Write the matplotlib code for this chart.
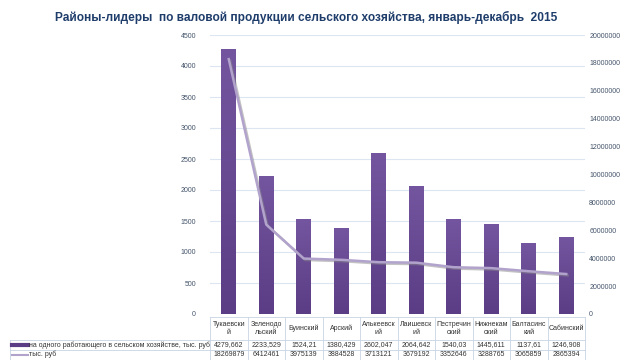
import numpy as np
import matplotlib.pyplot as plt
from matplotlib import patheffects as pe
from matplotlib.lines import Line2D
from matplotlib.colors import LinearSegmentedColormap

plt.rcParams["font.family"] = ["Liberation Sans", "DejaVu Sans"]

# ================== данные ==================
districts = ["Тукаевски\nй", "Зеленодо\nльский", "Буинский", "Арский", "Алькеевск\nий",
             "Лаишевск\nий", "Пестречин\nский", "Нижнекам\nский", "Балтасинс\nкий", "Сабинский"]
per_worker = [4279.662, 2233.529, 1524.21, 1380.429, 2602.047,
              2064.642, 1540.03, 1445.611, 1137.61, 1246.908]
per_worker_txt = ["4279,662", "2233,529", "1524,21", "1380,429", "2602,047",
                  "2064,642", "1540,03", "1445,611", "1137,61", "1246,908"]
total = [18269879, 6412461, 3975139, 3884528, 3713121,
         3679192, 3352646, 3288765, 3065859, 2865394]
label_bar = "на одного работающего в сельском хозяйстве, тыс. руб"
label_line = "тыс. руб"
title = "Районы-лидеры  по валовой продукции сельского хозяйства, январь-декабрь  2015"

TICK_C = "#44546A"
GRID_C = "#DCE6F2"
BORDER_C = "#C9D3E3"
BAR_TOP = "#74559F"
BAR_BOT = "#5A3D85"
LINE_C = "#B2A3CC"

W, H = 620, 360
fig = plt.figure(figsize=(6.2, 3.6), dpi=100)
ax = fig.add_axes([210 / W, 1 - 314 / H, 375 / W, 279 / H])
x = np.arange(len(districts))

bars = ax.bar(x, per_worker, width=0.4, color=BAR_BOT, zorder=2)
# градиент на столбцах
grad = np.linspace(0, 1, 256).reshape(-1, 1)
cmap = LinearSegmentedColormap.from_list("g", [BAR_BOT, BAR_TOP])
for b in bars:
    im = ax.imshow(grad, cmap=cmap, origin="lower", aspect="auto", zorder=2,
                   extent=[b.get_x(), b.get_x() + b.get_width(), 0, b.get_height()])
    im.set_clip_path(b)

ax.set_xlim(-0.5, len(districts) - 0.5)
ax.set_ylim(0, 4500)
ax.set_yticks(np.arange(0, 4501, 500))
ax.yaxis.grid(True, color=GRID_C, lw=0.8, zorder=0)
ax.set_xticks([])
for s in ax.spines.values():
    s.set_visible(False)
ax.tick_params(axis="y", length=0, labelsize=5, labelcolor=TICK_C, pad=10)

ax2 = ax.twinx()
ax2.plot(x, total, color=LINE_C, lw=1.8, zorder=3,
         path_effects=[pe.SimpleLineShadow(offset=(1, -1), shadow_color="#888888", alpha=0.5),
                       pe.Normal()])
ax2.set_ylim(0, 20000000)
ax2.set_yticks(np.arange(0, 20000001, 2000000))
ax2.set_yticklabels([str(v) for v in range(0, 20000001, 2000000)])
for s in ax2.spines.values():
    s.set_visible(False)
ax2.tick_params(axis="y", length=0, labelsize=5, labelcolor=TICK_C, pad=3)

# ================== таблица данных (вручную) ==================
def fx(px):
    return px / W

def fy(py):
    return 1 - py / H

def hline(x0, x1, y):
    fig.add_artist(Line2D([fx(x0), fx(x1)], [fy(y)] * 2, color=BORDER_C, lw=0.6))

def vline(x, y0, y1):
    fig.add_artist(Line2D([fx(x)] * 2, [fy(y0), fy(y1)], color=BORDER_C, lw=0.6))

n = len(districts)
col_w = 375 / n
left_x, x0 = 10, 210
y_head, y_r1, y_r2, y_end = 317, 340, 350, 359.5

hline(x0, x0 + 375, y_head)
hline(left_x, x0 + 375, y_r1)
hline(left_x, x0 + 375, y_r2)
hline(left_x, x0 + 375, y_end)
vline(left_x, y_r1, y_end)
for i in range(n + 1):
    vline(x0 + i * col_w, y_head, y_end)

rows = [per_worker_txt, [str(v) for v in total]]
for i in range(n):
    cx = fx(x0 + (i + 0.5) * col_w)
    fig.text(cx, fy((y_head + y_r1) / 2), districts[i], fontsize=5, color="#333333",
             ha="center", va="center", linespacing=1.3)
    fig.text(cx, fy((y_r1 + y_r2) / 2), rows[0][i], fontsize=5, color="#333333",
             ha="center", va="center")
    fig.text(cx, fy((y_r2 + y_end) / 2), rows[1][i], fontsize=5, color="#333333",
             ha="center", va="center")

fig.add_artist(Line2D([fx(12), fx(28)], [fy(345)] * 2, color=BAR_BOT, lw=3))
fig.add_artist(Line2D([fx(12), fx(28)], [fy(354.5)] * 2, color=LINE_C, lw=1.5))
fig.text(fx(29), fy(345), label_bar, fontsize=5, color="#333333", va="center")
fig.text(fx(29), fy(354.5), label_line, fontsize=5, color="#333333", va="center")

fig.text(0.493, fy(17), title, ha="center", va="center", fontsize=8.6,
         fontweight="bold", color="#1F3D6B")

fig.savefig("out.png", dpi=100)
